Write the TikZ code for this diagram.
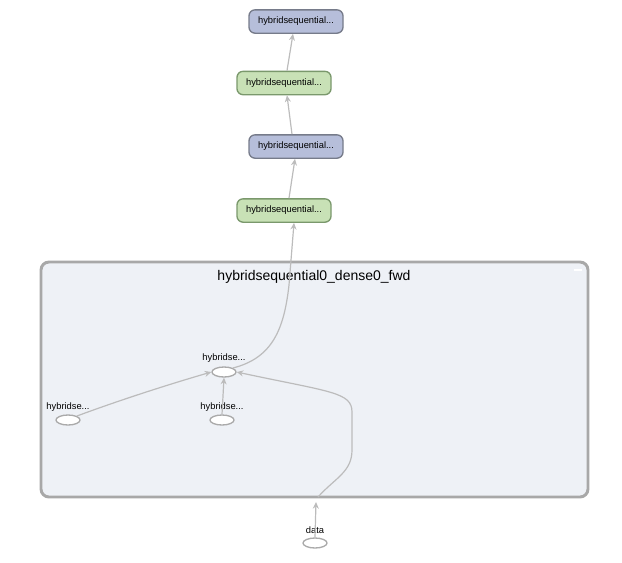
\documentclass[tikz,border=0pt]{standalone}
\usepackage{fontspec}
\setmainfont{Liberation Sans}
\usetikzlibrary{arrows.meta,shapes.geometric}
\definecolor{bluefill}{RGB}{182,190,218}
\definecolor{blueline}{RGB}{118,123,138}
\definecolor{greenfill}{RGB}{200,225,182}
\definecolor{greenline}{RGB}{122,152,108}
\definecolor{clusterfill}{RGB}{238,241,246}
\definecolor{clusterline}{RGB}{168,168,168}
\definecolor{edgecol}{RGB}{188,188,188}
\definecolor{ellline}{RGB}{170,170,170}
\tikzset{
  opbox/.style={draw, rounded corners=4.5pt, line width=1pt, minimum width=70.5pt, minimum height=17.5pt, inner sep=0pt, font=\fontsize{7pt}{8pt}\selectfont},
  bluebox/.style={opbox, fill=bluefill, draw=blueline},
  greenbox/.style={opbox, fill=greenfill, draw=greenline},
  opell/.style={ellipse, draw=ellline, fill=white, line width=1pt, minimum width=18pt, minimum height=7.5pt, inner sep=0pt},
  oplabel/.style={font=\fontsize{7pt}{8pt}\selectfont, inner sep=0pt},
  edge/.style={draw=edgecol, line width=0.9pt, -{Stealth[length=5pt,width=4.5pt]}},
  edgeplain/.style={draw=edgecol, line width=0.9pt},
}
\begin{document}
\begin{tikzpicture}[x=0.75pt,y=-0.75pt]
\useasboundingbox (0,0) rectangle (622,562);
% cluster
\draw[fill=clusterfill, draw=clusterline, line width=2.2pt, rounded corners=6pt] (41,262) rectangle (588,497);
\node[font=\fontsize{10.5pt}{12pt}\selectfont, inner sep=0pt] (title) at (314,277) {hybridsequential0\_dense0\_fwd};
\draw[white, line width=1.2pt] (574,270) -- (582,270);
% boxes
\node[bluebox] (b1) at (296,21.5) {hybridsequential...};
\node[greenbox] (g1) at (284,83) {hybridsequential...};
\node[bluebox] (b2) at (296,146.5) {hybridsequential...};
\node[greenbox] (g2) at (284,210.5) {hybridsequential...};
% ellipses
\node[opell] (e1) at (224,372) {};
\node[oplabel] (l1) at (224,358) {hybridse...};
\node[opell] (e2) at (68,420) {};
\node[oplabel] (l2) at (68,407) {hybridse...};
\node[opell] (e3) at (222,420) {};
\node[oplabel] (l3) at (222,407) {hybridse...};
\node[opell] (data) at (315,543) {};
\node[oplabel] (ldata) at (315,530) {data};
% coordinates
\coordinate (din) at (316,502);
\coordinate (dstart) at (318,497);
% edges
\draw[edge] (data.north) -- (din);
\draw[edge] (dstart) .. controls (335,478) and (352,472) .. (352,450) -- (352,412) .. controls (352,392) and (330,392) .. (e1.east);
\draw[edge] (e2.north east) .. controls (120,400) and (170,384) .. (e1.west);
\draw[edge] (e3.north) -- (e1.south);
\draw[edge] (e1.north east) .. controls (272,358) and (284,330) .. (289,285) -- (g2.south -| 294,0);
\draw[edge] (g2.north -| 289,0) -- (b2.south -| 295,0);
\draw[edge] (b2.north -| 292,0) -- (g1.south -| 287,0);
\draw[edge] (g1.north -| 287,0) -- (b1.south -| 293,0);
\end{tikzpicture}
\end{document}
